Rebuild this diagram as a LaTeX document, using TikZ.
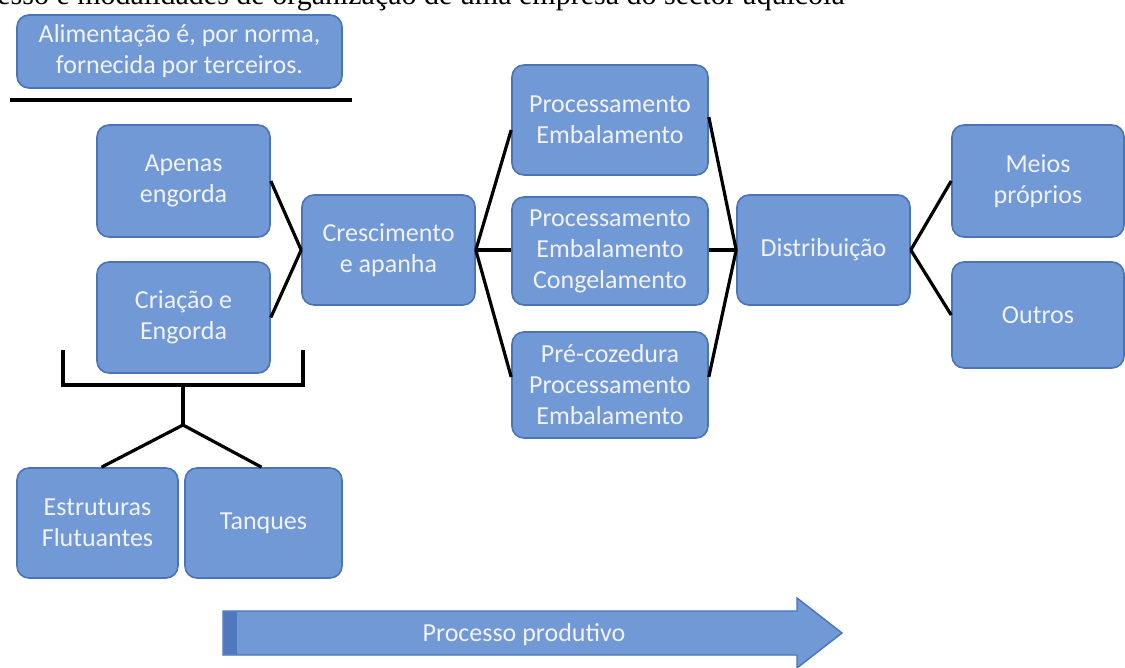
\documentclass[tikz,border=0pt]{standalone}
\usepackage{fontspec}
\setmainfont{Carlito}
\newfontfamily\serifcap{Liberation Serif}
\definecolor{boxfill}{HTML}{7099D6}
\definecolor{boxline}{HTML}{4A74B5}
\definecolor{boxtext}{HTML}{F2F2F2}
\definecolor{stripfill}{HTML}{5078BC}
\begin{document}
\begin{tikzpicture}[x=1pt,y=-1pt,
  box/.style={rounded corners=12pt, fill=boxfill, draw=boxline, line width=1.6pt,
    text=boxtext, align=center, inner sep=0pt,
    font=\fontsize{26}{31}\selectfont},
  conn/.style={draw=black, line width=3.2pt},
  rulestyle/.style={draw=black, line width=4pt}]
\useasboundingbox (0,0) rectangle (1125,668);
\clip (0,0) rectangle (1125,668);
\fill[white] (0,0) rectangle (1125,668);

% caption at the top, cut off by the picture's edge as in the reference
\node[anchor=base east, inner sep=0pt, font=\serifcap\fontsize{30}{34}\selectfont] (cap) at (845,5)
  {Processo e modalidades de organização de uma empresa do sector aquícola};

% boxes
\node[box, minimum width=325pt, minimum height=73pt] (alim) at (179.5,51.5)
  {Alimentação é, por norma,\\fornecida por terceiros.};
\node[box, minimum width=173pt, minimum height=112pt] (apenas) at (183.5,181) {Apenas\\engorda};
\node[box, minimum width=173pt, minimum height=111pt] (criacao) at (183.5,317.5) {Criação e\\Engorda};
\node[box, minimum width=161pt, minimum height=110pt] (estrut) at (97.5,523) {Estruturas\\Flutuantes};
\node[box, minimum width=157pt, minimum height=110pt] (tanques) at (263.5,523) {Tanques};
\node[box, minimum width=173pt, minimum height=110pt] (cresc) at (388.5,250) {Crescimento\\e apanha};
\node[box, minimum width=196pt, minimum height=110pt] (proc1) at (610,120) {Processamento\\Embalamento};
\node[box, minimum width=196pt, minimum height=108pt] (proc2) at (610,251) {Processamento\\Embalamento\\Congelamento};
\node[box, minimum width=196pt, minimum height=106pt] (proc3) at (610,385) {Pré-cozedura\\Processamento\\Embalamento};
\node[box, minimum width=173pt, minimum height=110pt] (dist) at (823.5,250) {Distribuição};
\node[box, minimum width=172pt, minimum height=112pt] (meios) at (1038,181) {Meios\\próprios};
\node[box, minimum width=172pt, minimum height=106pt] (outros) at (1038,315) {Outros};

% rule under the top box
\coordinate (ruleL) at (10,100);
\coordinate (ruleR) at (352,100);
\draw[rulestyle] (ruleL) -- (ruleR);

% connectors
\draw[conn] (apenas.east) -- (cresc.west);
\draw[conn] (criacao.east) -- (cresc.west);
\draw[conn] (cresc.east) -- ([yshift=-10pt]proc1.west);
\draw[conn] (cresc.east) -- (proc2.west |- cresc.east);
\draw[conn] (cresc.east) -- ([yshift=8pt]proc3.west);
\draw[conn] ([yshift=3pt]proc1.east) -- (dist.west);
\draw[conn] (proc2.east |- dist.west) -- (dist.west);
\draw[conn] ([yshift=8pt]proc3.east) -- (dist.west);
\draw[conn] (dist.east) -- (meios.west);
\draw[conn] (dist.east) -- (outros.west);

% bracket
\coordinate (brL) at (63,350);
\coordinate (brR) at (303,350);
\coordinate (brC) at (183,385);
\coordinate (hub) at (183,425);
\draw[conn, line join=miter] (brL) |- (brC) -| (brR);
\draw[conn] (brC) -- (hub);
\draw[conn] (hub) -- ([xshift=4pt]estrut.north);
\draw[conn] (hub) -- ([xshift=-2pt]tanques.north);

% process arrow
\draw[fill=boxfill, draw=boxline, line width=1.4pt, line join=miter]
  (223,611) -- (797,611) -- (797,598) -- (842,633) -- (797,668) -- (797,655) -- (223,655) -- cycle;
\fill[stripfill] (223.7,611.7) rectangle (237,654.3);
\node[text=boxtext, font=\fontsize{26}{31}\selectfont, inner sep=0pt] (proc) at (524,635) {Processo produtivo};
\end{tikzpicture}
\end{document}
